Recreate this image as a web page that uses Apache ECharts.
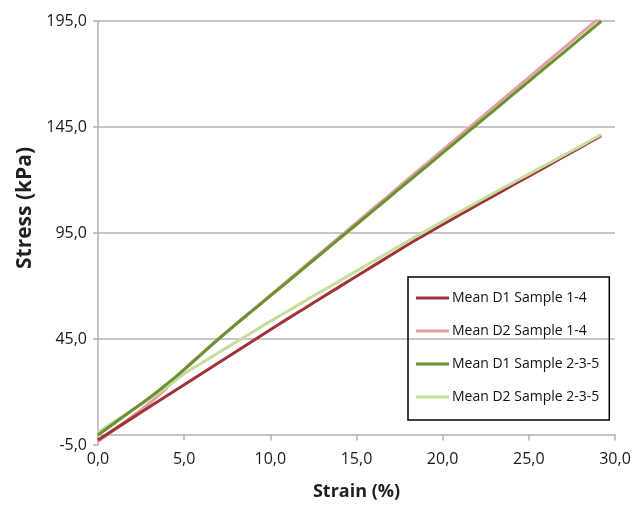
<!DOCTYPE html>
<html>
<head>
<meta charset="utf-8">
<script src="https://cdn.jsdelivr.net/npm/echarts@6/dist/echarts.min.js"></script>
<style>html,body{margin:0;padding:0;background:#fff}#c{width:632px;height:507px}</style>
</head>
<body>
<div id="c"></div>
<script>
const seriesNames = ['Mean D1 Sample 1-4', 'Mean D2 Sample 1-4', 'Mean D1 Sample 2-3-5', 'Mean D2 Sample 2-3-5'];
const strain = [0,1,2,3,4,5,6,7,8,9,10,11,12,13,14,15,16,17,18,19,20,21,22,23,24,25,26,27,28,29,29.2];
const d1s14 = [-2.6,2.6,7.8,13,18.2,23.4,28.6,33.8,39,44.2,49.4,54.5,59.5,64.6,69.6,74.6,79.6,84.6,89.6,94.3,99,103.6,108.2,112.7,117.3,121.8,126.3,130.9,135.4,140,140.9];
const d2s14 = [-3.4,2.5,8.6,14.8,22,30.8,38,45.2,52.1,58.9,65.7,72.5,79.4,86.2,93.1,99.9,106.8,113.6,120.5,127.3,134.2,141,147.9,154.7,161.6,168.4,175.3,182.1,189,195.8,197.2];
const d1s235 = [-0.3,5.6,11.5,17.4,23.8,30.6,37.8,45,51.9,58.6,65.3,72,78.8,85.5,92.3,99,105.8,112.5,119.3,126,132.8,139.5,146.3,153,159.8,166.5,173.3,180,186.8,193.5,194.9];
const d2s235 = [1,6.3,11.6,16.8,22.3,28.6,33.6,38.6,43.5,48.4,53.3,58.1,62.9,67.6,72.3,77,81.8,86.5,91.2,95.9,100.5,105,109.5,114,118.4,122.8,127.2,131.6,136,140.5,141.5];
const xTicks = {min: 0, max: 30, step: 5};
const yTicks = {min: -5, max: 195, step: 50};
const colors = ['#A0333A', '#E3A0A3', '#6B9131', '#C5DD9D'];

const pair = arr => strain.map((x, i) => [x, arr[i]]);
const allData = [d1s14, d2s14, d1s235, d2s235];
const fmt = v => v.toFixed(1).replace('.', ',');
const FONT = 'Open Sans';

// grid geometry: x axis crosses the y axis at value 0
const GRID = {left: 98, right: 17, top: 21, bottom: 62};
const plotH = 507 - GRID.top - GRID.bottom;
const xAxisOffset = -(0 - yTicks.min) / (yTicks.max - yTicks.min) * plotH;

const chart = echarts.init(document.getElementById('c'), null, {renderer: 'canvas'});
chart.setOption({
  animation: false,
  backgroundColor: '#fff',
  textStyle: {fontFamily: FONT},
  grid: Object.assign({containLabel: false, outerBoundsMode: 'none'}, GRID),
  xAxis: {
    type: 'value', min: xTicks.min, max: xTicks.max, interval: xTicks.step,
    offset: xAxisOffset,
    name: 'Strain (%)', nameLocation: 'middle', nameGap: 48,
    nameTextStyle: {fontFamily: FONT, fontSize: 18, fontWeight: 'bold', color: '#1f1f1f'},
    axisLine: {onZero: false, lineStyle: {color: '#b3b3b3', width: 1.5}},
    axisTick: {show: true, inside: false, length: 6, lineStyle: {color: '#b3b3b3', width: 1.5}},
    axisLabel: {formatter: fmt, margin: 17, fontSize: 16, color: '#1a1a1a', fontFamily: FONT},
    splitLine: {show: false}
  },
  yAxis: {
    type: 'value', min: yTicks.min, max: yTicks.max, interval: yTicks.step,
    name: 'Stress (kPa)', nameLocation: 'middle', nameGap: 59,
    nameTextStyle: {fontFamily: FONT, fontSize: 21, fontWeight: 'bold', color: '#1f1f1f', padding: [0, 0, 0, 50]},
    axisLine: {show: true, onZero: false, lineStyle: {color: '#b3b3b3', width: 1.5}},
    axisTick: {show: true, length: 5, lineStyle: {color: '#b3b3b3', width: 1.5}},
    axisLabel: {formatter: fmt, margin: 11, fontSize: 16, color: '#1a1a1a', fontFamily: FONT},
    splitLine: {show: true, showMinLine: false, lineStyle: {color: '#b3b3b3', width: 1.5}}
  },
  legend: {
    orient: 'vertical', left: 408, top: 277,
    data: seriesNames,
    icon: 'rect', itemWidth: 33, itemHeight: 3, itemGap: 15,
    padding: [12, 10, 14, 8],
    borderColor: '#000', borderWidth: 1.5,
    textStyle: {fontFamily: FONT, fontSize: 14, color: '#111', lineHeight: 18, padding: [0, 0, 0, -2]}
  },
  series: seriesNames.map((n, i) => ({
    name: n, type: 'line', data: pair(allData[i]),
    showSymbol: false, symbol: 'none', smooth: true,
    lineStyle: {color: colors[i], width: 3},
    itemStyle: {color: colors[i]},
    z: [3, 2, 4, 3][i]
  }))
});
</script>
</body>
</html>
